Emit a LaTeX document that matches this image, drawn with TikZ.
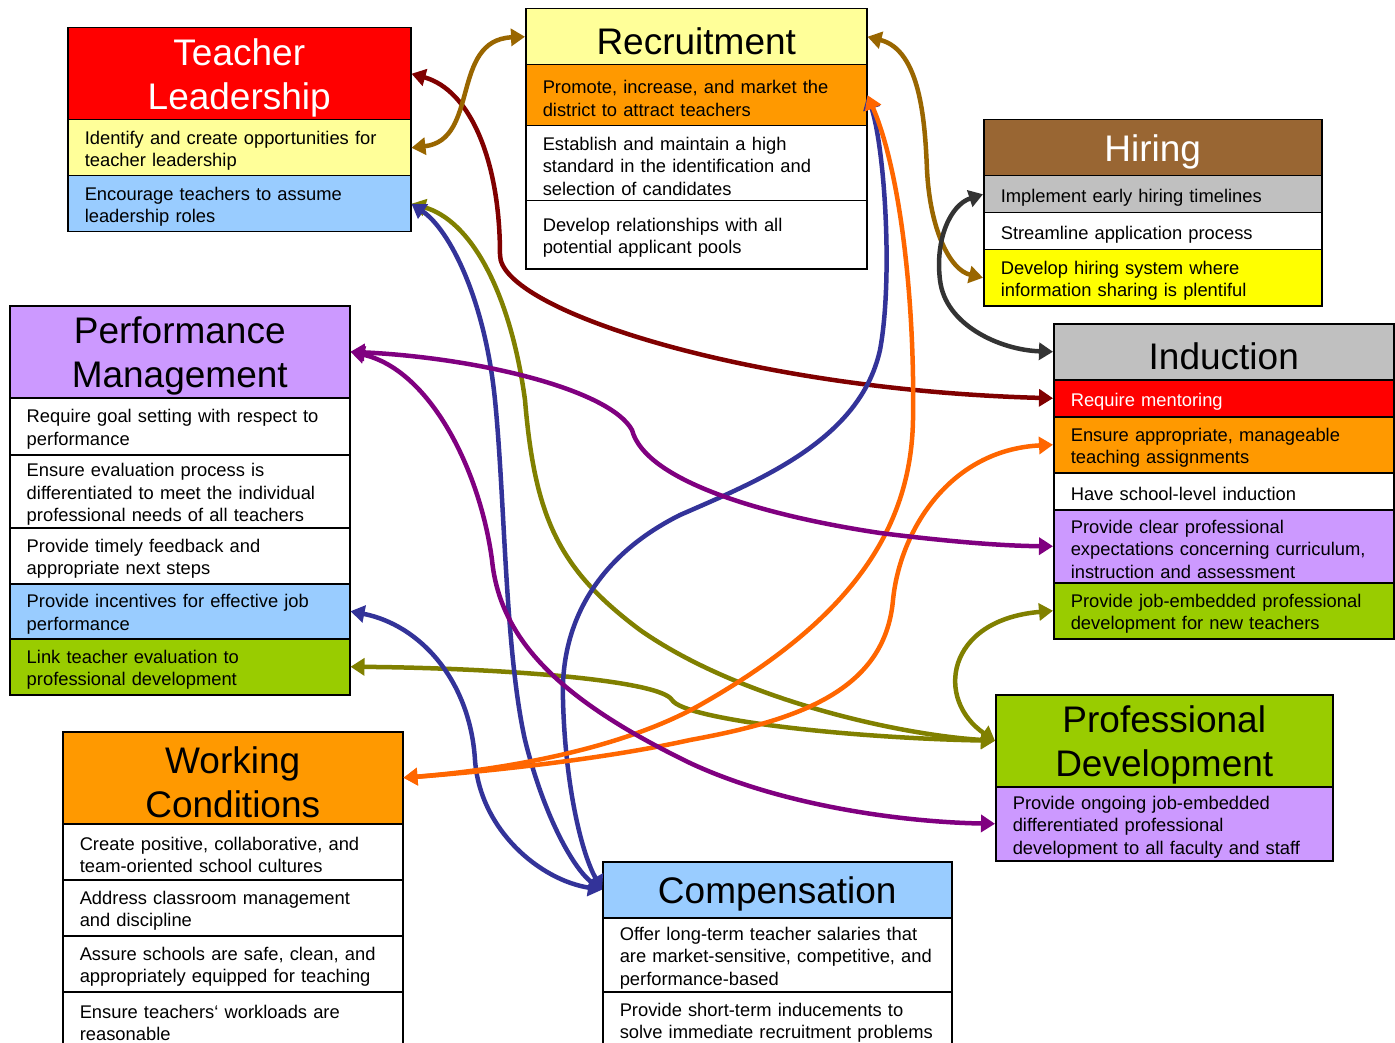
\documentclass[tikz,border=0pt]{standalone}
\usepackage{fontspec}
\setmainfont{Liberation Sans}
\usetikzlibrary{arrows.meta}
\definecolor{cRed}{HTML}{FF0000}
\definecolor{cLYellow}{HTML}{FFFF99}
\definecolor{cLBlue}{HTML}{99CCFF}
\definecolor{cOrange}{HTML}{FF9900}
\definecolor{cBrown}{HTML}{996633}
\definecolor{cGray}{HTML}{C0C0C0}
\definecolor{cYellow}{HTML}{FFFF00}
\definecolor{cLav}{HTML}{CC99FF}
\definecolor{cGreen}{HTML}{99CC00}
\definecolor{lDarkRed}{HTML}{800000}
\definecolor{lGold}{HTML}{996600}
\definecolor{lDGray}{HTML}{333333}
\definecolor{lOlive}{HTML}{808000}
\definecolor{lNavy}{HTML}{333399}
\definecolor{lOrange}{HTML}{FF6600}
\definecolor{lPurple}{HTML}{800080}
\newcommand\hdfont{\fontsize{37}{44}\selectfont}
\newcommand\bdfont{\fontsize{18.35}{22.4}\selectfont\hyphenpenalty=10000\exhyphenpenalty=10000}
\tikzset{
  cell/.style={draw=black, line width=1.5pt, anchor=north west, inner xsep=17pt, inner ysep=0pt, align=left, font=\bdfont, fill=white, execute at begin node={\rule{0pt}{19.5pt}}},
  head/.style={cell, align=center, font=\hdfont, execute at begin node={\rule{0pt}{36pt}}},
  tlw/.style={minimum width=343pt, text width=309pt},
  rcw/.style={minimum width=341pt, text width=307pt},
  hiw/.style={minimum width=338pt, text width=304pt},
  inw/.style={minimum width=340pt, text width=306pt},
  pmw/.style={minimum width=340pt, text width=306pt},
  wcw/.style={minimum width=340pt, text width=306pt},
  cpw/.style={minimum width=349pt, text width=315pt},
  pdw/.style={minimum width=337pt, text width=303pt},
  hh/.style={minimum height=#1pt},
  link/.style={line width=4.5pt, >={Triangle[length=14pt,width=17pt]}, <->},
}
\begin{document}
\begin{tikzpicture}[x=1pt,y=-1pt]
\clip (0,0) rectangle (1395,1043);
\fill[white] (0,0) rectangle (1395,1043);
% Teacher Leadership
\node[head,tlw,hh=92,fill=cRed,text=white] (tlh) at (67,27) {Teacher\\Leadership};
\node[cell,tlw,hh=56,fill=cLYellow] (tl1) at (67,119) {Identify and create opportunities for\\teacher leadership};
\node[cell,tlw,hh=56,fill=cLBlue] (tl2) at (67,175) {Encourage teachers to assume\\leadership roles};
% Recruitment
\node[head,rcw,hh=56,fill=cLYellow] (rh) at (525,8) {Recruitment};
\node[cell,rcw,hh=61,fill=cOrange] (r1) at (525,64) {Promote, increase, and market the\\district to attract teachers};
\node[cell,rcw,hh=75] (r2) at (525,125) {Establish and maintain a high\\standard in the identification and\\selection of candidates};
\node[cell,rcw,hh=68] (r3) at (525,200) {Develop relationships with all\\potential applicant pools};
% Hiring
\node[head,hiw,hh=56,fill=cBrown,text=white] (hih) at (983,119) {Hiring};
\node[cell,hiw,hh=37,fill=cGray] (h1) at (983,175) {Implement early hiring timelines};
\node[cell,hiw,hh=37] (h2) at (983,212) {Streamline application process};
\node[cell,hiw,hh=56,fill=cYellow] (h3) at (983,249) {Develop hiring system where\\information sharing is plentiful};
% Induction
\node[head,inw,hh=56,fill=cGray] (ih) at (1053,323) {Induction};
\node[cell,inw,hh=37,fill=cRed,text=white] (i1) at (1053,379) {Require mentoring};
\node[cell,inw,hh=56,fill=cOrange] (i2) at (1053,416) {Ensure appropriate, manageable\\teaching assignments};
\node[cell,inw,hh=37] (i3) at (1053,472) {Have school-level induction};
\node[cell,inw,hh=73,fill=cLav] (i4) at (1053,509) {Provide clear professional\\expectations concerning curriculum,\\instruction and assessment};
\node[cell,inw,hh=56,fill=cGreen] (i5) at (1053,582) {Provide job-embedded professional\\development for new teachers};
% Performance Management
\node[head,pmw,hh=92,fill=cLav] (pmh) at (9,305) {Performance\\Management};
\node[cell,pmw,hh=57] (pm1) at (9,397) {Require goal setting with respect to\\performance};
\node[cell,pmw,hh=73] (pm2) at (9,454) {Ensure evaluation process is\\differentiated to meet the individual\\professional needs of all teachers};
\node[cell,pmw,hh=56] (pm3) at (9,527) {Provide timely feedback and\\appropriate next steps};
\node[cell,pmw,hh=55,fill=cLBlue] (pm4) at (9,583) {Provide incentives for effective job\\performance};
\node[cell,pmw,hh=56,fill=cGreen] (pm5) at (9,638) {Link teacher evaluation to\\professional development};
% Working Conditions
\node[head,wcw,hh=92,fill=cOrange] (wch) at (62,731) {Working\\Conditions};
\node[cell,wcw,hh=56] (wc1) at (62,823) {Create positive, collaborative, and\\team-oriented school cultures};
\node[cell,wcw,hh=56] (wc2) at (62,879) {Address classroom management\\and discipline};
\node[cell,wcw,hh=56] (wc3) at (62,935) {Assure schools are safe, clean, and\\appropriately equipped for teaching};
\node[cell,wcw,hh=56] (wc4) at (62,991) {Ensure teachers‘ workloads are\\reasonable};
% Compensation
\node[head,cpw,hh=56,fill=cLBlue] (ch) at (602,861) {Compensation};
\node[cell,cpw,hh=74] (c1) at (602,917) {Offer long-term teacher salaries that\\are market-sensitive, competitive, and\\performance-based};
\node[cell,cpw,hh=56] (c2) at (602,991) {Provide short-term inducements to\\solve immediate recruitment problems};
% Professional Development
\node[head,pdw,hh=92,fill=cGreen] (pdh) at (995,694) {Professional\\Development};
\node[cell,pdw,hh=74,fill=cLav] (pd1) at (995,786) {Provide ongoing job-embedded\\differentiated professional\\development to all faculty and staff};
% Connectors
\draw[link,lDarkRed] (tlh.east) .. controls (470,90) and (500,160) .. (500,255) .. controls (500,310) and (750,390) .. (i1.west);
\draw[link,lGold] (tl1.east) .. controls (480,140) and (450,40) .. (rh.west);
\draw[link,lGold] (rh.east) .. controls (920,50) and (925,120) .. (927,170) .. controls (930,230) and (950,270) .. (h3.west);
\draw[link,lDGray] (h1.west) .. controls (950,205) and (935,240) .. (940,280) .. controls (945,325) and (1000,350) .. (ih.west);
\draw[link,lOlive] (tl2.east) .. controls (470,220) and (510,290) .. (525,400) .. controls (535,520) and (560,570) .. (640,630) .. controls (740,700) and (900,735) .. (pdh.west);
\draw[link,lOlive] (pm5.east) .. controls (500,668) and (660,680) .. (672,700) .. controls (685,720) and (850,738) .. (pdh.west);
\draw[link,lOlive] (pdh.west) .. controls (935,700) and (945,620) .. (i5.west);
\draw[link,lNavy] (tl2.east) .. controls (450,230) and (485,300) .. (495,400) .. controls (505,500) and (505,650) .. (525,740) .. controls (545,820) and (575,870) .. (ch.west);
\draw[link,lNavy] (r1.east) .. controls (885,150) and (893,280) .. (880,350) .. controls (860,440) and (760,480) .. (680,515) .. controls (600,555) and (560,620) .. (563,700) .. controls (565,780) and (580,850) .. (ch.west);
\draw[link,lNavy] (pm4.east) .. controls (420,625) and (470,680) .. (475,760) .. controls (480,830) and (540,880) .. (ch.west);
\draw[link,lOrange] (r1.east) .. controls (900,170) and (915,300) .. (913,420) .. controls (911,530) and (850,620) .. (700,705) .. controls (620,750) and (500,770) .. (wch.east);
\draw[link,lOrange] (i2.west) .. controls (950,450) and (900,530) .. (893,600) .. controls (885,690) and (800,720) .. (690,740) .. controls (600,760) and (480,772) .. (wch.east);
\draw[link,lPurple] (pmh.east) .. controls (480,358) and (610,390) .. (632,430) .. controls (645,480) and (760,515) .. (880,533) .. controls (960,543) and (1010,546) .. (i4.west);
\draw[link,lPurple] (pmh.east) .. controls (430,370) and (480,470) .. (492,560) .. controls (500,640) and (560,700) .. (690,763) .. controls (780,805) and (900,822) .. (pd1.west);
\end{tikzpicture}
\end{document}
